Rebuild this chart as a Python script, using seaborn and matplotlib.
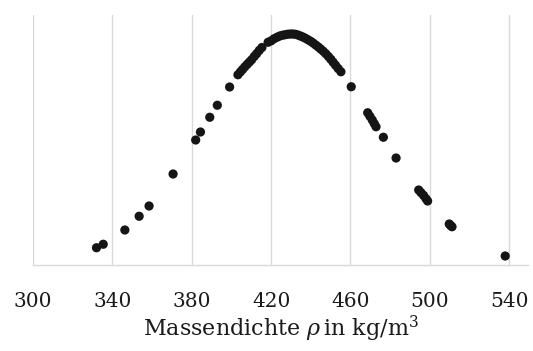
import matplotlib
matplotlib.use("Agg")
import matplotlib.pyplot as plt
import seaborn as sns
import pandas as pd

# Density values (kg/m^3) and relative frequency (arbitrary density units)
rho = [332.0, 335.4, 346.3, 353.5, 358.5, 370.6, 382.0, 384.4, 389.1, 392.9,
       399.1,
       403.3, 404.5, 405.6, 406.8, 408.0, 409.1, 410.2, 411.5, 412.7, 414.0, 415.4,
       418.5, 420.1, 421.5, 423.0, 424.4, 425.7, 427.0, 428.3, 429.6, 430.9,
       432.2, 433.5, 434.8, 436.0, 437.3, 438.6, 439.9, 441.2, 442.5, 443.8,
       445.0, 446.3, 447.6, 448.9, 450.1, 451.3, 452.5, 453.8, 455.2,
       460.4, 468.7, 469.8, 471.0, 472.0, 472.9, 476.6, 483.0,
       494.4, 495.5, 496.8, 498.0, 498.9, 509.8, 510.5, 511.2, 538.0]
density = [0.00069, 0.00083, 0.00140, 0.00195, 0.00236, 0.00364, 0.00500, 0.00532, 0.00591, 0.00639,
           0.00712,
           0.00761, 0.00772, 0.00782, 0.00793, 0.00803, 0.00812, 0.00821, 0.00834, 0.00845, 0.00858, 0.00870,
           0.00891, 0.00897, 0.00905, 0.00911, 0.00916, 0.00919, 0.00921, 0.00923, 0.00924, 0.00924,
           0.00923, 0.00920, 0.00916, 0.00912, 0.00907, 0.00901, 0.00895, 0.00888, 0.00880, 0.00872,
           0.00864, 0.00855, 0.00845, 0.00834, 0.00823, 0.00811, 0.00799, 0.00786, 0.00773,
           0.00713, 0.00609, 0.00595, 0.00580, 0.00566, 0.00553, 0.00511, 0.00428,
           0.00300, 0.00290, 0.00279, 0.00266, 0.00256, 0.00164, 0.00158, 0.00153, 0.00036]

xticks = [300, 340, 380, 420, 460, 500, 540]

df = pd.DataFrame({"rho": rho, "density": density})

sns.set_style("white")
plt.rcParams["font.family"] = ["DejaVu Serif"]
plt.rcParams["mathtext.fontset"] = "dejavuserif"

fig = plt.figure(figsize=(5.33, 3.51), dpi=100)
ax = fig.add_axes([33/533, 1 - 265/351, (528 - 33)/533, (265 - 15)/351])

sns.scatterplot(data=df, x="rho", y="density", ax=ax, color="#151515",
                s=44, edgecolor="none", zorder=3)

ax.set_xlim(300, 549.5)
ax.set_ylim(0, 0.01)
ax.set_xticks(xticks)
ax.set_xticklabels([str(t) for t in xticks], fontsize=14.5)
ax.set_yticks([])
ax.grid(axis="x", color="#d9d9d9", linewidth=1)
ax.tick_params(axis="x", length=0, pad=19.5, colors="#1a1a1a")
for s in ["top", "right", "left"]:
    ax.spines[s].set_visible(False)
ax.spines["bottom"].set_color("#d9d9d9")
ax.spines["bottom"].set_linewidth(1)
ax.set_ylabel("")
ax.set_xlabel(r"Massendichte $\rho\,$in kg/m$^3$", fontsize=16, labelpad=2,
              color="#1a1a1a")

fig.savefig("out.png", dpi=100)
